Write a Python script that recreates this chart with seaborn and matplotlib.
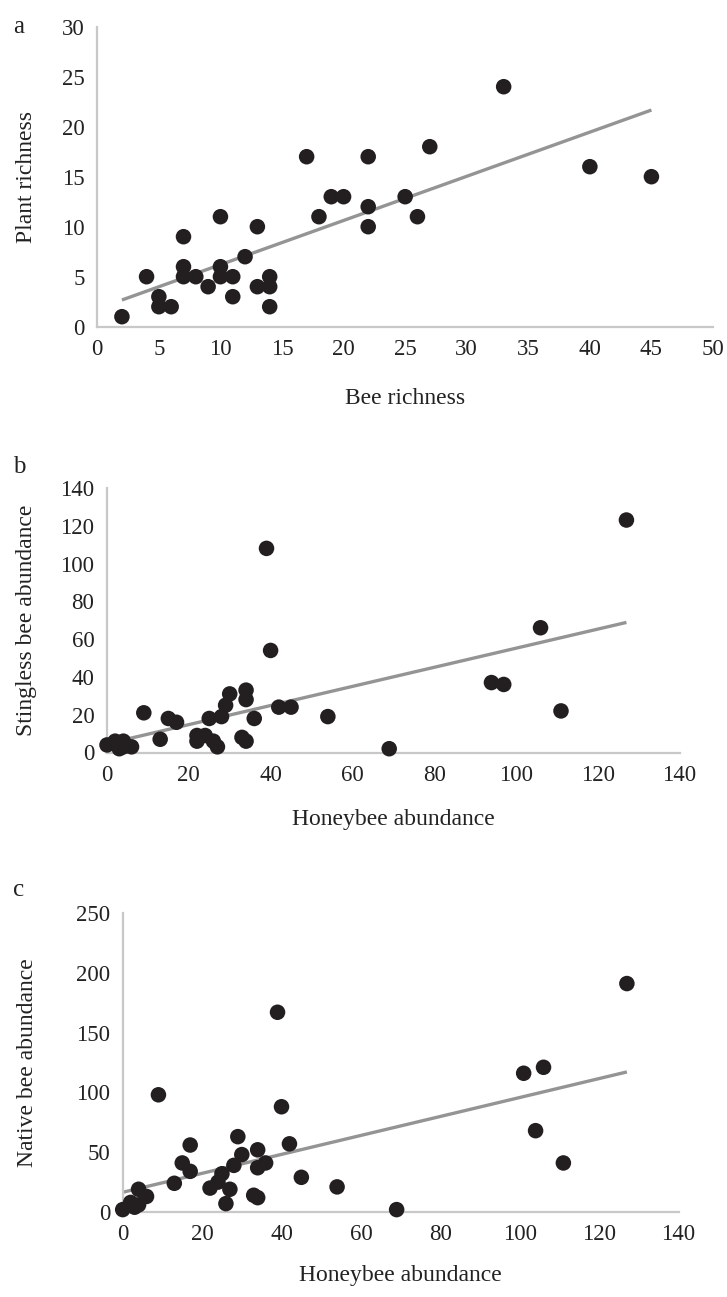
import numpy as np
import pandas as pd
import matplotlib
matplotlib.use("Agg")
import matplotlib.pyplot as plt
import seaborn as sns

# Panel a: bee richness vs plant richness per site
bee_richness = [2, 4, 5, 5, 6, 7, 7, 7, 8, 9, 10, 10, 10, 11, 11, 12, 13, 13,
                14, 14, 14, 17, 18, 19, 20, 22, 22, 22, 25, 26, 27, 33, 40, 45]
plant_richness = [1, 5, 3, 2, 2, 9, 6, 5, 5, 4, 11, 6, 5, 5, 3, 7, 10, 4,
                  5, 4, 2, 17, 11, 13, 13, 17, 12, 10, 13, 11, 18, 24, 16, 15]

# Panel b: honeybee abundance vs stingless bee abundance
honeybee_b = [0, 2, 3, 4, 4, 6, 9, 13, 15, 17, 22, 22, 24, 26, 27, 25, 28, 29,
              30, 34, 34, 33, 34, 36, 39, 40, 42, 45, 54, 69, 94, 97, 106, 111, 127]
stingless = [4, 6, 2, 6, 3, 3, 21, 7, 18, 16, 9, 6, 9, 6, 3, 18, 19, 25,
             31, 33, 28, 8, 6, 18, 108, 54, 24, 24, 19, 2, 37, 36, 66, 22, 123]

# Panel c: honeybee abundance vs native bee abundance
honeybee_c = [0, 2, 3, 4, 4, 6, 9, 13, 15, 17, 17, 22, 24, 25, 26, 27, 28, 29,
              30, 33, 34, 34, 34, 36, 39, 40, 42, 45, 54, 69, 101, 104, 106, 111, 127]
native = [2, 8, 4, 19, 6, 13, 98, 24, 41, 56, 34, 20, 25, 32, 7, 19, 39, 63,
          48, 14, 12, 52, 37, 41, 167, 88, 57, 29, 21, 2, 116, 68, 121, 41, 191]

panels = [
    dict(letter="a", x=bee_richness, y=plant_richness, xlabel="Bee richness",
         ylabel="Plant richness", xlim=(0, 50), ylim=(0, 30),
         xticks=np.arange(0, 51, 5), yticks=np.arange(0, 31, 5),
         box=(97.3, 713, 26.7, 326.7), letter_xy=(13, 27), ylab_x=27, xlab_y=398),
    dict(letter="b", x=honeybee_b, y=stingless, xlabel="Honeybee abundance",
         ylabel="Stingless bee abundance", xlim=(0, 140), ylim=(0, 140),
         xticks=np.arange(0, 141, 20), yticks=np.arange(0, 141, 20),
         box=(107, 679.6, 487.9, 752.5), letter_xy=(13, 467), ylab_x=27, xlab_y=820),
    dict(letter="c", x=honeybee_c, y=native, xlabel="Honeybee abundance",
         ylabel="Native bee abundance", xlim=(0, 140), ylim=(0, 250),
         xticks=np.arange(0, 141, 20), yticks=np.arange(0, 251, 50),
         box=(122.7, 678.5, 913, 1212), letter_xy=(13, 890), ylab_x=27, xlab_y=1275),
]

sns.set_theme(style="white")
plt.rcParams["font.family"] = ["Liberation Serif", "DejaVu Serif"]

W, H = 727, 1297
fig = plt.figure(figsize=(W / 100, H / 100), dpi=100)
fig.patch.set_facecolor("white")

spine_color = "#c8c8c8"
dot_color = "#231f20"
line_color = "#949494"
fs = 16.5

for p in panels:
    x0, x1, yt, yb = p["box"]
    ax = fig.add_axes([x0 / W, 1 - yb / H, (x1 - x0) / W, (yb - yt) / H])
    df = pd.DataFrame({"x": p["x"], "y": p["y"]})
    sns.regplot(data=df, x="x", y="y", ax=ax, scatter=False, ci=None,
                truncate=True, line_kws=dict(color=line_color, lw=2.4,
                                             solid_capstyle="butt", zorder=2))
    sns.scatterplot(data=df, x="x", y="y", ax=ax, s=125, color=dot_color,
                    edgecolor="none", linewidth=0, zorder=3, clip_on=False)
    ax.set_xlim(*p["xlim"])
    ax.set_ylim(*p["ylim"])
    ax.set_xticks(p["xticks"])
    ax.set_yticks(p["yticks"])
    ax.tick_params(axis="both", length=0, labelsize=fs, colors="#222222")
    ax.tick_params(axis="x", pad=9)
    ax.tick_params(axis="y", pad=9)
    for side in ("top", "right"):
        ax.spines[side].set_visible(False)
    for side in ("left", "bottom"):
        ax.spines[side].set_color(spine_color)
        ax.spines[side].set_linewidth(1.6)
    ax.set_xlabel(p["xlabel"], fontsize=fs + 0.5, color="#222222")
    ax.set_ylabel(p["ylabel"], fontsize=fs + 0.5, color="#222222")
    # place axis titles at fixed pixel positions
    ax.yaxis.set_label_coords((p["ylab_x"] - x0) / (x1 - x0), 0.5)
    ax.xaxis.set_label_coords(0.5, (yb - p["xlab_y"]) / (yb - yt))
    ax.xaxis.label.set_va("center")
    ax.yaxis.label.set_va("center")
    fig.text(p["letter_xy"][0] / W, 1 - p["letter_xy"][1] / H, p["letter"],
             fontsize=fs + 1.5, color="#222222", va="center", ha="left")

fig.savefig("out.png", dpi=100, facecolor="white")
